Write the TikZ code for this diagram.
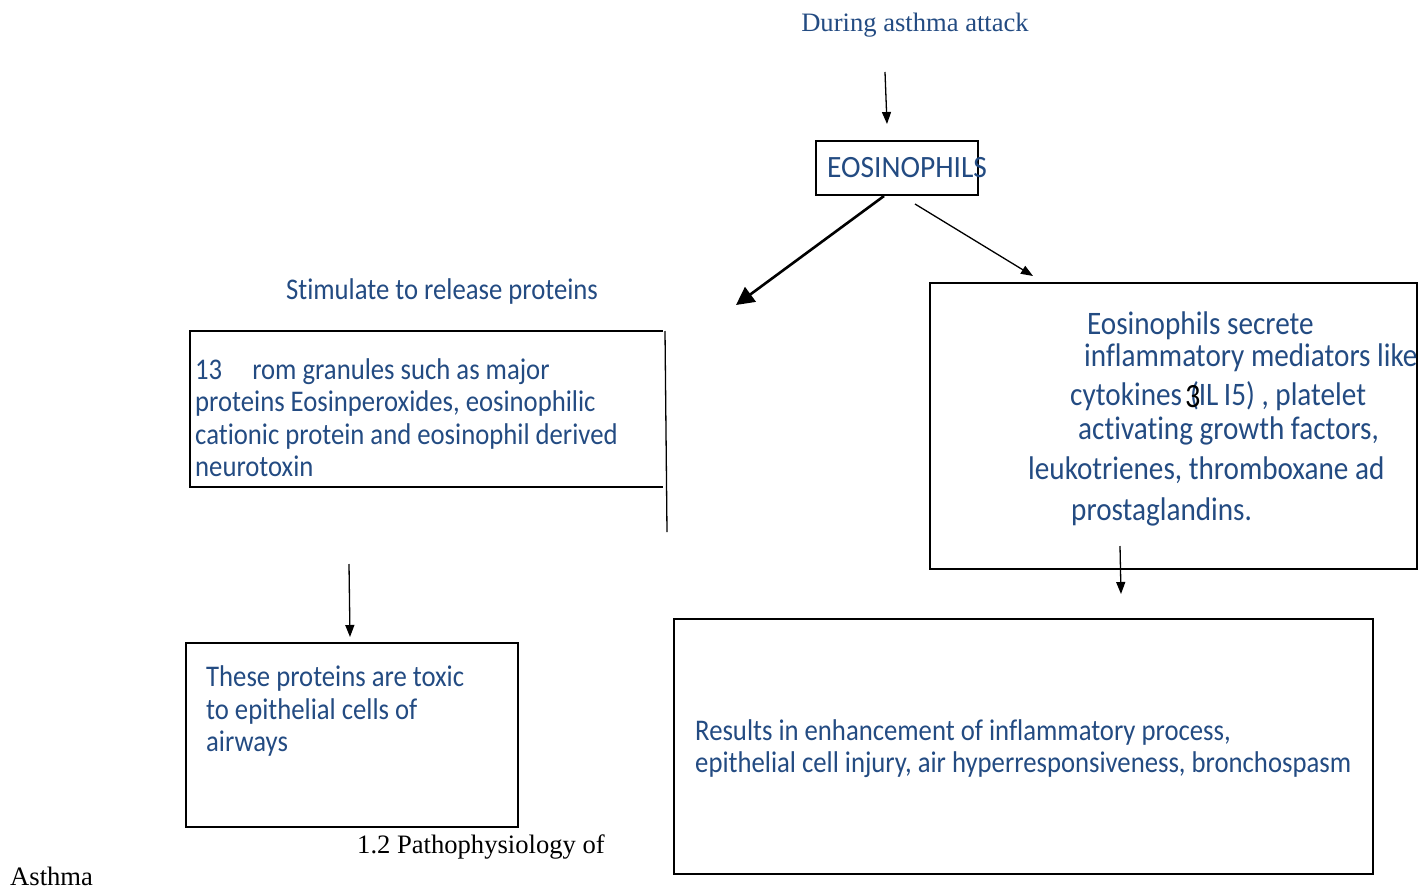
\documentclass[tikz,border=0pt]{standalone}
\usepackage{fontspec}
\newfontfamily\calib[FakeStretch=0.89,RawFeature=-liga]{Carlito}
\newfontfamily\calibw[FakeStretch=0.95,RawFeature=-liga]{Carlito}
\newfontfamily\tms{Liberation Serif}
\usetikzlibrary{arrows.meta}
\definecolor{txtblue}{RGB}{35,75,130}
\tikzset{
  bx/.style={draw=black,line width=1.3pt},
  ln/.style={draw=black,line width=1.3pt},
  bt/.style={anchor=base west,inner sep=0pt,text=txtblue,font=\calib\fontsize{30}{34}\selectfont},
  rt/.style={bt,font=\calib\fontsize{32.8}{36}\selectfont},
  sr/.style={inner sep=0pt,font=\tms\fontsize{26.6}{30}\selectfont},
  thinarr/.style={draw=black,line width=1.3pt,-{Triangle[length=12pt,width=9pt]}},
  thickarr/.style={draw=black,line width=2.6pt,-{Triangle[length=18pt,width=18pt]}}
}
\begin{document}
\begin{tikzpicture}[x=1pt,y=-1pt]
\useasboundingbox (0,0) rectangle (1421,888);
% top label
\node[sr,text=txtblue,anchor=base] (top) at (915,32) {During asthma attack};
\coordinate (a1s) at (885,72);
\coordinate (a1e) at (887,124);
\draw[thinarr] (a1s) -- (a1e);
% eosinophils box
\node[bx,minimum width=162pt,minimum height=54pt,inner sep=0pt] (eos) at (897,168) {};
\node[bt,font=\calibw\fontsize{31}{34}\selectfont] (eost) at (827,177) {EOSINOPHILS};
% arrows from eosinophils
\coordinate (a2s) at (884,196);
\coordinate (a2e) at (736,305);
\draw[thickarr] (a2s) -- (a2e);
\coordinate (a3s) at (915,204);
\coordinate (a3e) at (1033,276);
\draw[thinarr] (a3s) -- (a3e);
% stimulate
\node[bt,anchor=base] (stim) at (442,299) {Stimulate to release proteins};
% left box (open right side)
\coordinate (lb1) at (190,331);
\coordinate (lb2) at (663,331);
\coordinate (lb3) at (190,487);
\coordinate (lb4) at (663,487);
\draw[ln] (lb2) -- (lb1) -- (lb3) -- (lb4);
\coordinate (vl1) at (665,331);
\coordinate (vl2) at (667,532);
\draw[ln] (vl1) -- (vl2);
\node[bt] (l1) at (195,379) {13\hspace{30pt}rom granules such as major};
\node[bt] (l2) at (195,411) {proteins Eosinperoxides, eosinophilic};
\node[bt] (l3) at (195,444) {cationic protein and eosinophil derived};
\node[bt] (l4) at (195,476) {neurotoxin};
% arrow down left
\coordinate (a4s) at (349,564);
\coordinate (a4e) at (350,637);
\draw[thinarr] (a4s) -- (a4e);
% toxic box
\node[bx,minimum width=332pt,minimum height=184pt,inner sep=0pt] (tox) at (352,735) {};
\node[bt] (t1) at (206,686) {These proteins are toxic};
\node[bt] (t2) at (206,719) {to epithelial cells of};
\node[bt] (t3) at (206,751) {airways};
% caption
\node[sr,anchor=base west] (cap1) at (357,853) {1.2 Pathophysiology of};
\node[sr,anchor=base west] (cap2) at (10,885) {Asthma};
% right box
\node[bx,minimum width=487pt,minimum height=286pt,inner sep=0pt] (rb) at (1173.5,426) {};
\node[rt] (r1) at (1087,334) {Eosinophils secrete};
\node[rt] (r2) at (1084,366) {inflammatory mediators like};
\node[rt] (r3) at (1070,405) {cytokines\hspace{8pt}(IL\,I5) , platelet};
\node[anchor=base west,inner sep=0pt,font=\calib\fontsize{34}{36}\selectfont] (r3b) at (1185,407) {3};
\node[rt] (r4) at (1078,439) {activating growth factors,};
\node[rt] (r5) at (1028,479) {leukotrienes, thromboxane ad};
\node[rt] (r6) at (1071,520) {prostaglandins.};
% arrow down right
\coordinate (a5s) at (1120,546);
\coordinate (a5e) at (1121,594);
\draw[thinarr] (a5s) -- (a5e);
% results box
\node[bx,minimum width=699pt,minimum height=255pt,inner sep=0pt] (res) at (1023.5,746.5) {};
\node[bt] (s1) at (695,740) {Results in enhancement of inflammatory process,};
\node[bt] (s2) at (695,772) {epithelial cell injury, air hyperresponsiveness, bronchospasm};
\end{tikzpicture}
\end{document}
